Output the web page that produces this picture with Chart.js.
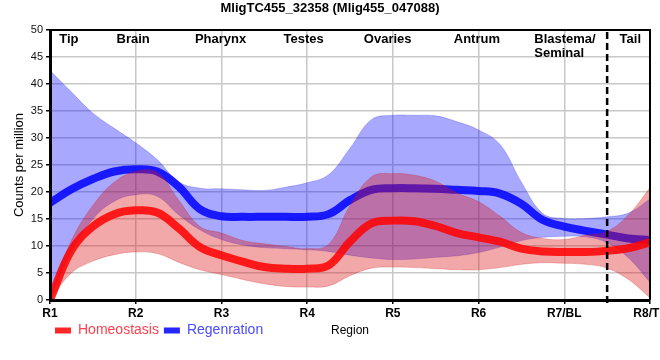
<!DOCTYPE html>
<html>
<head>
<meta charset="utf-8">
<script src="https://cdn.jsdelivr.net/npm/chart.js@4.4.1/dist/chart.umd.min.js"></script>
<style>
  html, body { margin: 0; padding: 0; background: #fff; }
</style>
</head>
<body>
<canvas id="chart" width="660" height="360"></canvas>
<script>
// Regions along the body (x axis), one unit apart
const regions = ['R1', 'R2', 'R3', 'R4', 'R5', 'R6', 'R7/BL', 'R8/TL'];
const regionNames = ['Tip', 'Brain', 'Pharynx', 'Testes', 'Ovaries', 'Antrum', 'Blastema/\nSeminal', 'Tail'];

// Sample positions (in region units, R1 = 0)
const positions = [0, 0.25, 0.5, 0.75, 1, 1.25, 1.5, 1.75, 2, 2.25, 2.5, 2.75, 3, 3.25, 3.5,
  3.75, 4, 4.25, 4.5, 4.75, 5, 5.25, 5.5, 5.75, 6, 6.25, 6.5, 6.75, 7];

// Homeostasis: mean and band
const homeoMean = [0, 9.2, 13.6, 15.9, 16.6, 16.2, 13.3, 9.8, 8.3, 7.1, 6.1, 5.8, 5.8, 6.4, 10.8,
  14.2, 14.7, 14.6, 13.7, 12.4, 11.6, 10.8, 9.5, 9.0, 8.9, 8.9, 9.1, 9.6, 10.7];
const homeoUpper = [0.5, 11, 17.5, 21.8, 23.8, 23.6, 18.5, 13.6, 12.4, 11.0, 10.4, 9.9, 9.5, 10.3, 17.5,
  22.8, 23.4, 23.1, 22.0, 19.8, 18.2, 15.5, 12.5, 11.4, 11.2, 12.0, 12.7, 15.8, 20.8];
const homeoLower = [0, 5.0, 7.2, 8.4, 8.9, 8.6, 7.0, 5.6, 4.7, 3.8, 3.0, 2.5, 2.4, 2.6, 4.5,
  5.9, 6.1, 6.0, 5.8, 5.6, 5.6, 6.0, 6.6, 6.9, 6.8, 6.6, 5.9, 3.8, 0.4];

// Regeneration: mean and band
const regenMean = [18.0, 20.5, 22.4, 23.8, 24.2, 23.8, 21.0, 16.8, 15.5, 15.4, 15.4, 15.4, 15.4, 15.9, 18.5,
  20.4, 20.7, 20.7, 20.6, 20.4, 20.2, 19.7, 17.8, 14.8, 13.6, 12.8, 12.1, 11.4, 11.1];
const regenUpper = [42.5, 38.5, 34.6, 31.8, 29.1, 26.0, 21.9, 20.7, 20.6, 20.4, 20.3, 20.9, 21.7, 23.2, 28.1,
  33.4, 34.2, 34.2, 34.1, 33.0, 31.5, 28.8, 21.8, 16.0, 15.1, 15.1, 15.4, 16.1, 18.7];
const regenLower = [0.5, 9, 15, 18.3, 19.5, 19.2, 15.8, 13.0, 11.2, 10.2, 9.7, 9.5, 9.3, 9.0, 8.3,
  7.8, 7.5, 7.6, 7.9, 8.2, 8.8, 9.8, 11.0, 11.6, 11.8, 11.7, 10.6, 7.8, 3.3];

const yTicks = [0, 5, 10, 15, 20, 25, 30, 35, 40, 45, 50];
const tailBoundary = 6.5;

const FONT = '"Liberation Sans", Arial, sans-serif';

function pts(values) {
    return positions.map((x, i) => ({ x: x, y: values[i] }));
}

// Region names at the top of the plot, plus frame and dashed Tail boundary
const labelPos = [0.22, 0.97, 1.99, 2.96, 3.94, 4.98, 5.65, 6.77];
const overlayPlugin = {
    id: 'overlay',
    afterDatasetsDraw(chart) {
        const { ctx, chartArea, scales: { x } } = chart;
        ctx.save();
        ctx.strokeStyle = '#000';
        ctx.lineWidth = 2;
        ctx.beginPath();
        ctx.moveTo(chartArea.left, chartArea.top);
        ctx.lineTo(chartArea.right, chartArea.top);
        ctx.lineTo(chartArea.right, chartArea.bottom);
        ctx.stroke();

        const dx = x.getPixelForValue(tailBoundary);
        ctx.setLineDash([7, 4]);
        ctx.lineWidth = 2.5;
        ctx.beginPath();
        ctx.moveTo(dx, chartArea.top + 2);
        ctx.lineTo(dx, chartArea.bottom + 5);
        ctx.stroke();
        ctx.setLineDash([]);

        ctx.font = 'bold 13px ' + FONT;
        ctx.fillStyle = '#000';
        ctx.textBaseline = 'middle';
        regionNames.forEach((name, i) => {
            const lines = name.split('\n');
            const px = x.getPixelForValue(labelPos[i]);
            ctx.textAlign = lines.length > 1 ? 'left' : 'center';
            lines.forEach((line, j) => {
                ctx.fillText(line, px, chartArea.top + 9 + j * 14);
            });
        });
        ctx.restore();
    }
};

const lineColors = ['rgba(255,0,0,0.85)', 'rgba(0,0,255,0.85)'];
const legendText = ['#ff4050', '#4a4aff'];

new Chart(document.getElementById('chart').getContext('2d'), {
    type: 'line',
    data: {
        datasets: [
            {
                label: 'Homeostasis',
                data: pts(homeoMean),
                borderColor: lineColors[0],
                backgroundColor: lineColors[0],
                borderWidth: 8,
                order: 0,
                fill: false
            },
            {
                label: 'Regenration',
                data: pts(regenMean),
                borderColor: lineColors[1],
                backgroundColor: lineColors[1],
                borderWidth: 8,
                order: 2,
                fill: false
            },
            {
                label: 'Regeneration upper',
                data: pts(regenUpper),
                borderColor: 'rgba(40,40,230,0.25)',
                backgroundColor: 'rgba(0,0,255,0.34)',
                borderWidth: 1,
                order: 3,
                fill: '+1'
            },
            {
                label: 'Regeneration lower',
                data: pts(regenLower),
                borderColor: 'rgba(40,40,230,0.25)',
                borderWidth: 1,
                order: 3,
                fill: false
            },
            {
                label: 'Homeostasis upper',
                data: pts(homeoUpper),
                borderColor: 'rgba(200,20,20,0.25)',
                backgroundColor: 'rgba(220,20,20,0.37)',
                borderWidth: 1,
                order: 1,
                fill: '+1'
            },
            {
                label: 'Homeostasis lower',
                data: pts(homeoLower),
                borderColor: 'rgba(200,20,20,0.25)',
                borderWidth: 1,
                order: 1,
                fill: false
            }
        ]
    },
    options: {
        responsive: false,
        animation: false,
        events: [],
        clip: 0,
        layout: { padding: { top: 0, right: 0, bottom: 12.5, left: 0 } },
        elements: {
            point: { radius: 0, hoverRadius: 0 },
            line: { tension: 0.4, capBezierPoints: true }
        },
        plugins: {
            title: {
                display: true,
                text: 'MligTC455_32358 (Mlig455_047088)',
                color: '#000',
                font: { family: FONT, size: 13, weight: 'bold' },
                padding: { top: 0.7, bottom: 13.7 }
            },
            legend: {
                position: 'bottom',
                align: 'start',
                fullSize: false,
                labels: {
                    boxWidth: 16,
                    boxHeight: 6,
                    padding: 5,
                    font: { family: FONT, size: 14 },
                    generateLabels: chart => [0, 1].map(i => ({
                        text: chart.data.datasets[i].label,
                        fillStyle: lineColors[i],
                        strokeStyle: lineColors[i],
                        lineWidth: 0,
                        fontColor: legendText[i],
                        hidden: false,
                        datasetIndex: i
                    }))
                }
            },
            tooltip: { enabled: false }
        },
        scales: {
            x: {
                type: 'linear',
                min: 0,
                max: 7,
                afterFit: scale => { scale.paddingRight = 10; },
                ticks: {
                    stepSize: 1,
                    autoSkip: false,
                    maxRotation: 0,
                    padding: 2,
                    color: '#000',
                    font: { family: FONT, size: 12, weight: 'bold' },
                    callback: v => regions[v]
                },
                grid: { color: '#c8c8c8', lineWidth: 1.5, tickLength: 4, tickColor: '#000', tickWidth: 1.5 },
                border: { color: '#000', width: 3, z: 1 },
                title: {
                    display: true,
                    text: 'Region',
                    color: '#000',
                    font: { family: FONT, size: 12 },
                    padding: { top: 1.4, bottom: -19.7 }
                }
            },
            y: {
                min: 0,
                max: 50,
                afterFit: scale => { scale.width = 50; },
                afterBuildTicks: scale => { scale.ticks = yTicks.map(v => ({ value: v })); },
                ticks: {
                    padding: 3,
                    color: '#111',
                    font: { family: FONT, size: 11 }
                },
                grid: { color: '#c8c8c8', lineWidth: 1.5, tickLength: 4, tickColor: '#000', tickWidth: 1.5 },
                border: { color: '#000', width: 3, z: 1 },
                title: {
                    display: true,
                    text: 'Counts per million',
                    color: '#000',
                    font: { family: FONT, size: 13 },
                    padding: { top: 12, bottom: 0 }
                }
            }
        }
    },
    plugins: [overlayPlugin]
});
</script>
</body>
</html>
